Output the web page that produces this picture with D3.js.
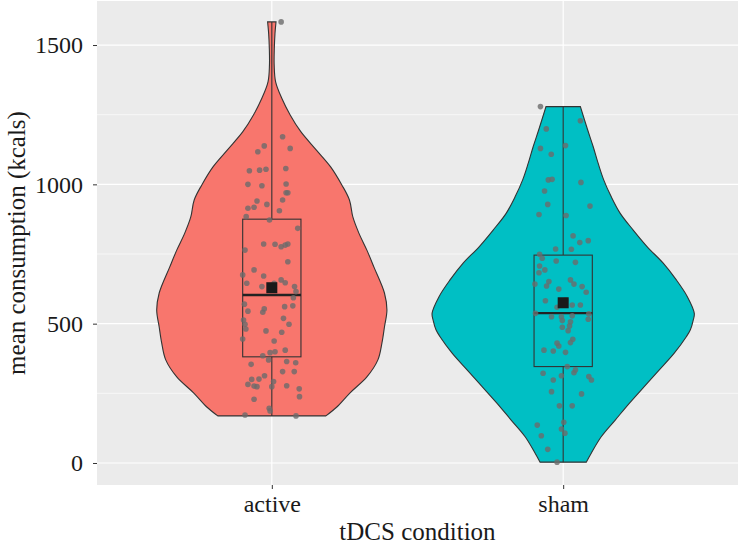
<!DOCTYPE html>
<html>
<head>
<meta charset="utf-8">
<title>tDCS violin</title>
<script src="https://cdn.jsdelivr.net/npm/d3@7"></script>
<style>
    body { margin: 0; background: #fff; }
    text { font-family: "Liberation Serif", "DejaVu Serif", serif; fill: #1a1a1a; }
    .axis path.domain { stroke: none; }
    .axis .tick line { stroke: #333; }
</style>
</head>
<body>
<script>
// ---- data ----
var categories = ["active", "sham"];
var fills = ["#F8766D", "#00BFC4"];

// box stats per category
var q1 = [381, 346];
var medians = [603, 538];
var q3 = [875, 746];
var whiskerLo = [169, 3];
var whiskerHi = [1583, 1279];
var means = [629, 575];

// violin outline: [kcal, relative density] (sham peak = 1)
var activeDensity = [
    [169, 0.412], [201, 0.496], [251, 0.595], [309, 0.725], [370, 0.809],
    [431, 0.84], [488, 0.859], [549, 0.878], [610, 0.859], [703, 0.779],
    [764, 0.725], [825, 0.664], [883, 0.618], [944, 0.592], [998, 0.534],
    [1062, 0.45], [1123, 0.34], [1189, 0.221], [1249, 0.14], [1309, 0.076],
    [1368, 0.029], [1428, 0.018], [1488, 0.019], [1540, 0.024], [1583, 0.032]
];
var shamDensity = [
    [3, 0.176], [35, 0.214], [94, 0.29], [154, 0.397], [214, 0.504],
    [274, 0.618], [334, 0.733], [394, 0.847], [453, 0.939], [478, 0.97],
    [513, 0.992], [537, 1.0], [597, 0.947], [657, 0.863], [717, 0.763],
    [776, 0.641], [836, 0.534], [896, 0.435], [956, 0.366], [1016, 0.309],
    [1075, 0.267], [1135, 0.229], [1195, 0.187], [1279, 0.131]
];

// jittered observations: [kcal, jitter in % of category step]
var activePoints = [
    [1583, 3.2], [1171, 3.7], [1138, -2.6], [1129, 6.3], [1117, -4.8], [1049, -7.7],
    [1051, -4.2], [1054, -2.0], [1057, 4.8], [1000, -8.2], [995, -3.4], [1001, 4.9],
    [970, 4.9], [970, 5.5], [940, -5.1], [944, 3.7], [928, -1.7], [914, -8.2],
    [918, -6.1], [905, 2.6], [884, -8.8], [872, -0.8], [842, 8.9], [786, -2.8],
    [785, 1.1], [776, 3.2], [782, 4.6], [786, 5.5], [764, -9.2], [722, 5.5],
    [693, -6.1], [671, -2.8], [675, -10.0], [657, 3.2], [645, -8.6], [647, 4.6],
    [645, 0.8], [633, 7.8], [615, 8.3], [593, 7.4], [633, -3.4], [570, -9.4],
    [553, -2.6], [541, -3.1], [545, -8.2], [561, 4.4], [564, 7.2], [513, -9.7],
    [498, -9.2], [481, -8.9], [519, 4.0], [498, 5.9], [474, -2.0], [469, 3.4],
    [445, -10.0], [438, 0.8], [405, 4.6], [399, 1.1], [396, -0.6], [385, -3.1],
    [370, -1.1], [354, -7.1], [364, 5.1], [360, 8.2], [328, 3.7], [328, 7.7],
    [313, -2.5], [301, -4.4], [300, -6.9], [292, 0.6], [282, -8.2], [276, -6.1],
    [274, -5.1], [274, 0], [277, 5.1], [266, 9.4], [238, 9.5], [229, -6.1],
    [196, -0.9], [187, -0.6], [172, -9.2], [169, 8.3]
];
var shamPoints = [
    [1279, -7.8], [1228, 5.9], [1199, -5.8], [1139, 0.8], [1129, -7.8], [1108, -4.1],
    [1016, -5.1], [1018, -3.8], [1007, 6.1], [976, -6.4], [928, -5.3], [922, 9.2],
    [892, -8.3], [888, 1.0], [815, 3.4], [791, 5.7], [798, 8.6], [768, -2.6],
    [767, 2.8], [749, -8.1], [735, -7.2], [725, -2.4], [720, 4.2], [707, -8.1],
    [693, -6.3], [683, -8.3], [657, 2.5], [651, -4.9], [642, 3.7], [642, -9.7],
    [635, -5.7], [633, 6.5], [624, -1.5], [613, 7.9], [582, -6.1], [585, 0.8],
    [559, -2.1], [567, 3.1], [567, 5.9], [537, -9.5], [525, -4.0], [525, -0.6],
    [528, 3.1], [535, 8.8], [511, -0.3], [516, 8.6], [507, 2.5], [492, 2.2],
    [487, -0.3], [475, 1.7], [430, -2.1], [444, 3.3], [432, 2.5], [405, -6.6],
    [402, -3.4], [420, -1.5], [397, 0.8], [346, 1.4], [334, 4.2], [324, 3.7],
    [322, -6.9], [313, -0.6], [298, -3.4], [310, 8.8], [298, 9.7], [256, -4.0],
    [248, 6.3], [205, -1.3], [205, 3.1], [136, -8.9], [146, 0.2], [122, -0.6],
    [107, 0.6], [98, -7.5], [49, -5.3], [3, -2.1]
];

var yTicks = [0, 500, 1000, 1500];
var yMinor = [250, 750, 1250];

var densities = [activeDensity, shamDensity];
var points = [activePoints, shamPoints];

// ---- layout ----
var width = 738, height = 546,
    margins = {top: 1, left: 97, right: 0, bottom: 61};
var pw = width - margins.left - margins.right,
    ph = height - margins.top - margins.bottom;

var svg = d3.select("body").append("svg")
    .attr("width", width)
    .attr("height", height);

var x = d3.scalePoint().domain(categories).range([0, pw]).padding(0.6);
var step = x.step();
var y = d3.scaleLinear().domain([-79, 1658]).range([ph, 0]);
var halfW = d3.scaleLinear().domain([0, 1]).range([0, step * 0.45]);

var g = svg.append("g")
    .attr("transform", "translate(" + margins.left + "," + margins.top + ")");

// panel
g.append("rect").attr("width", pw).attr("height", ph).attr("fill", "#EBEBEB");

g.selectAll("line.minor").data(yMinor).enter().append("line")
    .attr("class", "minor")
    .attr("x1", 0).attr("x2", pw)
    .attr("y1", function (d) { return y(d); }).attr("y2", function (d) { return y(d); })
    .attr("stroke", "#fff").attr("stroke-width", 0.6);

g.selectAll("line.major").data(yTicks).enter().append("line")
    .attr("class", "major")
    .attr("x1", 0).attr("x2", pw)
    .attr("y1", function (d) { return y(d); }).attr("y2", function (d) { return y(d); })
    .attr("stroke", "#fff").attr("stroke-width", 1.2);

g.selectAll("line.vgrid").data(categories).enter().append("line")
    .attr("class", "vgrid")
    .attr("y1", 0).attr("y2", ph)
    .attr("x1", function (d) { return x(d); }).attr("x2", function (d) { return x(d); })
    .attr("stroke", "#fff").attr("stroke-width", 1.2);

// violins
categories.forEach(function (c, i) {
    var cx = x(c);
    var area = d3.area()
        .curve(d3.curveCatmullRom)
        .y(function (d) { return y(d[0]); })
        .x0(function (d) { return cx - halfW(d[1]); })
        .x1(function (d) { return cx + halfW(d[1]); });

    g.append("path")
        .datum(densities[i])
        .attr("d", area)
        .attr("fill", fills[i])
        .attr("stroke", "#333")
        .attr("stroke-width", 1.1);
});

// boxplots
var boxHalf = step * 0.1;
categories.forEach(function (c, i) {
    var cx = x(c);
    var bg = g.append("g").attr("class", "box");

    bg.append("line")
        .attr("x1", cx).attr("x2", cx)
        .attr("y1", y(q3[i])).attr("y2", y(whiskerHi[i]))
        .attr("stroke", "#333").attr("stroke-width", 1.1);
    bg.append("line")
        .attr("x1", cx).attr("x2", cx)
        .attr("y1", y(q1[i])).attr("y2", y(whiskerLo[i]))
        .attr("stroke", "#333").attr("stroke-width", 1.1);

    bg.append("rect")
        .attr("x", cx - boxHalf)
        .attr("y", y(q3[i]))
        .attr("width", boxHalf * 2)
        .attr("height", y(q1[i]) - y(q3[i]))
        .attr("fill", "none")
        .attr("stroke", "#333").attr("stroke-width", 1.1);

    bg.append("line")
        .attr("x1", cx - boxHalf).attr("x2", cx + boxHalf)
        .attr("y1", y(medians[i])).attr("y2", y(medians[i]))
        .attr("stroke", "#222").attr("stroke-width", 2.4);
});

// jittered points
categories.forEach(function (c, i) {
    var cx = x(c);
    g.selectAll("circle.p" + i).data(points[i]).enter().append("circle")
        .attr("class", "p" + i)
        .attr("cx", function (d) { return cx + d[1] / 100 * step; })
        .attr("cy", function (d) { return y(d[0]); })
        .attr("r", 2.8)
        .attr("fill", "#6b6b6b")
        .attr("fill-opacity", 0.8);
});

// means
var sq = 11;
g.selectAll("rect.mean").data(categories).enter().append("rect")
    .attr("class", "mean")
    .attr("x", function (d) { return x(d) - sq / 2; })
    .attr("y", function (d, i) { return y(means[i]) - sq / 2; })
    .attr("width", sq).attr("height", sq)
    .attr("fill", "#1a1a1a");

// axes
var yAxis = d3.axisLeft(y).tickValues(yTicks).tickFormat(d3.format("d"))
    .tickSize(4).tickPadding(10);
g.append("g").attr("class", "axis").call(yAxis)
    .selectAll("text").style("font-size", "24px").attr("fill", "#1a1a1a");

var xAxis = d3.axisBottom(x).tickSize(4).tickPadding(6);
g.append("g").attr("class", "axis")
    .attr("transform", "translate(0," + ph + ")")
    .call(xAxis)
    .selectAll("text").style("font-size", "24px").attr("fill", "#1a1a1a");

svg.selectAll(".axis text").attr("font-family", "Liberation Serif");

svg.append("text")
    .attr("x", margins.left + pw / 2)
    .attr("y", 540)
    .attr("text-anchor", "middle")
    .style("font-size", "25px")
    .text("tDCS condition");

svg.append("text")
    .attr("transform", "translate(25," + (margins.top + ph / 2) + ") rotate(-90)")
    .attr("text-anchor", "middle")
    .style("font-size", "25px")
    .text("mean consumption (kcals)");
</script>
</body>
</html>
